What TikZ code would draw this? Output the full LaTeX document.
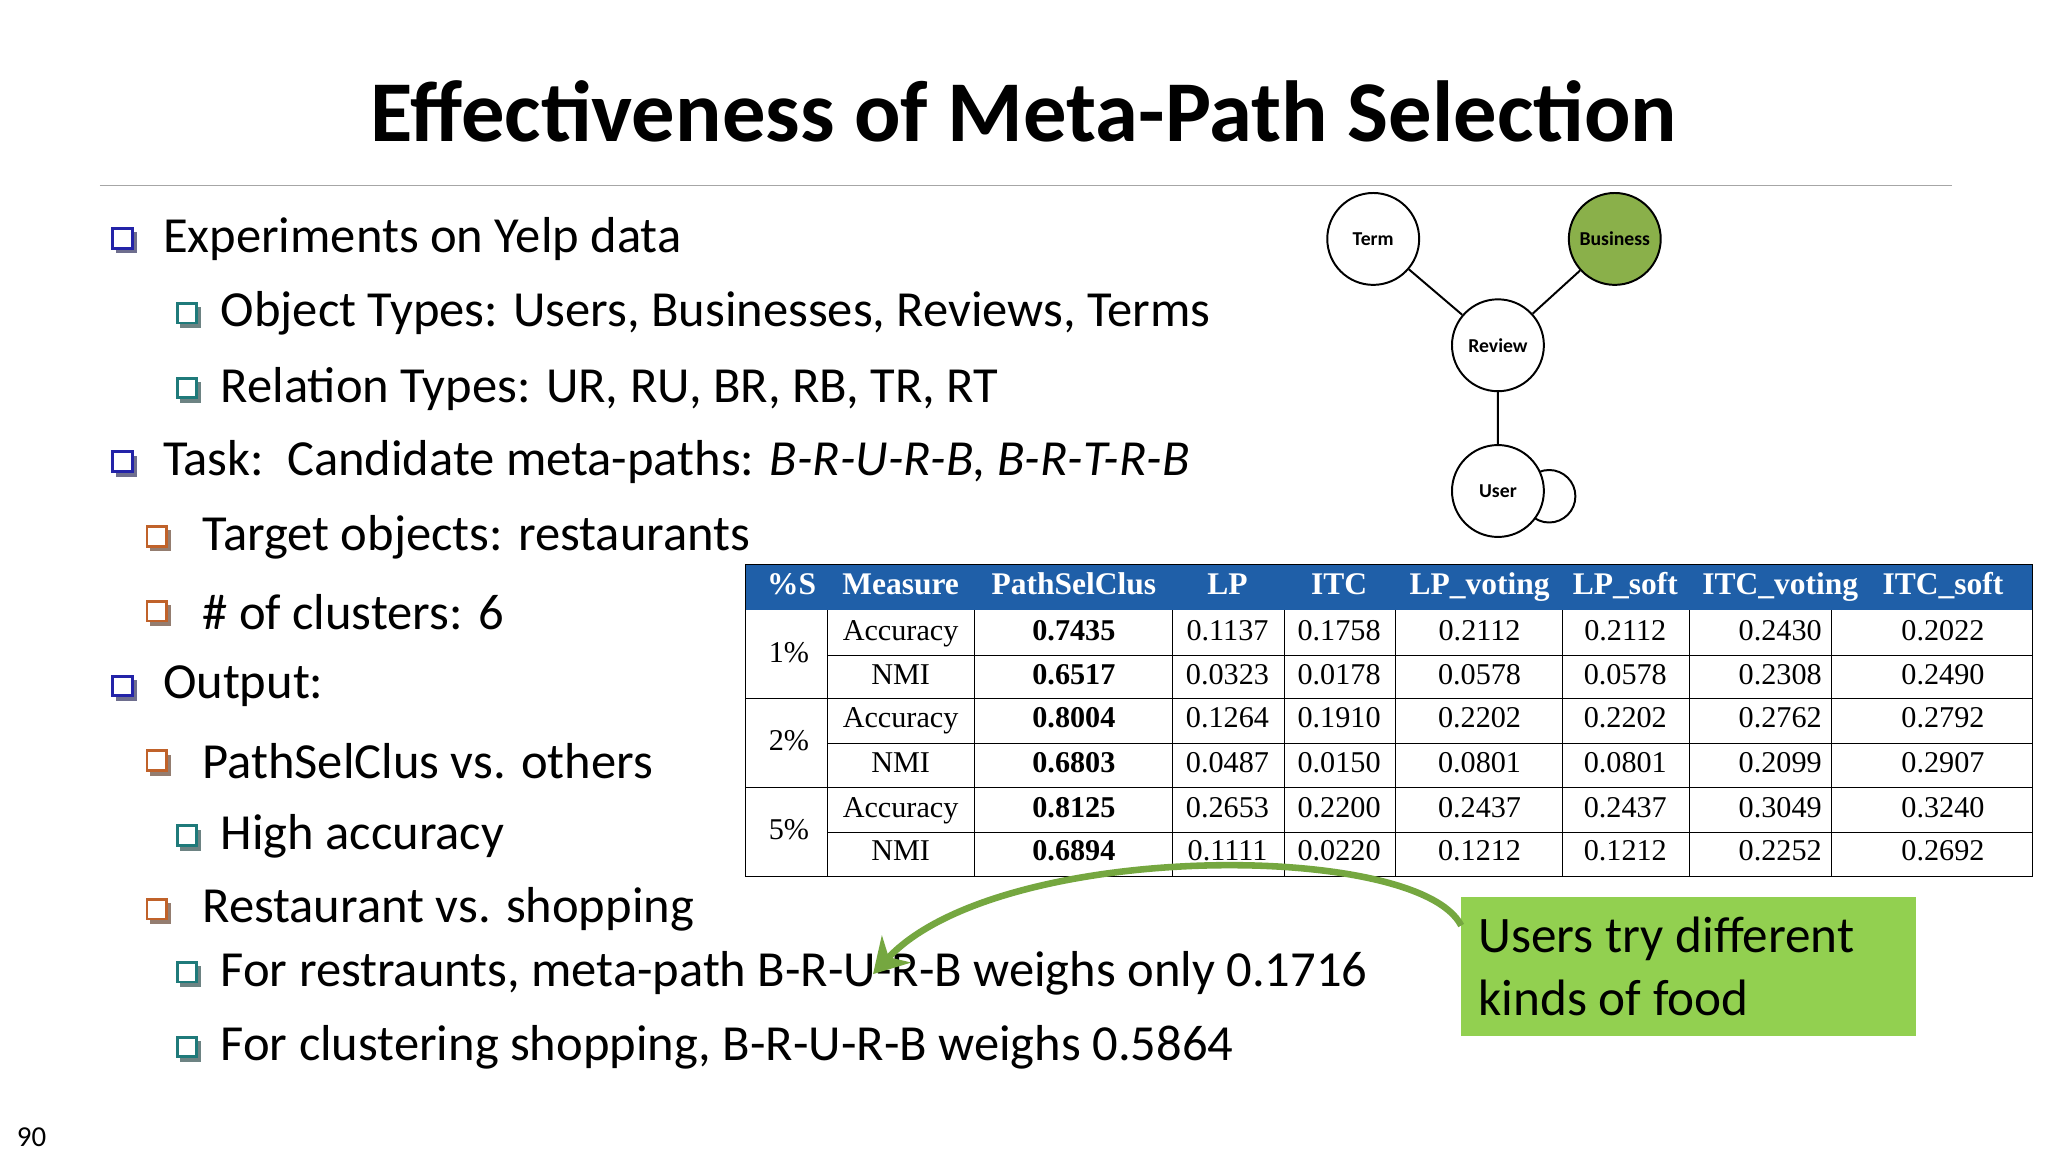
\documentclass[tikz,border=0pt]{standalone}
\usepackage{fontspec}
\setmainfont{Carlito}
\newfontfamily\tms{Liberation Serif}
\usetikzlibrary{arrows.meta}
\definecolor{bblue}{HTML}{2323A8}
\definecolor{bteal}{HTML}{1F7A7A}
\definecolor{borange}{HTML}{C0622A}
\definecolor{hblue}{HTML}{1F5FA8}
\definecolor{bgreen}{HTML}{92D050}
\definecolor{nodegreen}{HTML}{8AB04A}
\begin{document}
\begin{tikzpicture}[x=1pt,y=-1pt,
  txt/.style={anchor=west,inner sep=0pt,font=\fontsize{38.5}{44}\selectfont},
  circ/.style={circle,draw,line width=1.5pt,minimum size=70,inner sep=0pt,font=\fontsize{15}{16}\selectfont\bfseries},
  hd/.style={text=white,font=\tms\bfseries\fontsize{24}{28}\selectfont,inner sep=0pt,text height=17pt,text depth=5pt},
  cl/.style={font=\tms\fontsize{23}{28}\selectfont,inner sep=0pt,text height=16pt,text depth=5pt}]
\useasboundingbox (0,0) rectangle (1560,877.5);
\fill[white] (0,0) rectangle (1560,877.5);
\node[font=\bfseries\fontsize{66}{76}\selectfont] (title) at (780,85) {Effectiveness of Meta-Path Selection};
\draw[gray!70,line width=0.8pt] (76,141) coordinate (l1) -- (1487,141) coordinate (l2);
\newcommand{\bul}[3]{%
  \fill[#1!40!black!60] (#2-6,#3-5) rectangle (#2+10,#3+11);
  \draw[#1,line width=2.2pt,fill=white] (#2-8,#3-8) rectangle (#2+7,#3+7);}
\bul{bblue}{94}{182}\node[txt] (t1) at (124,182) {Experiments on Yelp data};
\bul{bteal}{143}{239}\node[txt] (t2) at (168,239) {Object Types: Users, Businesses, Reviews, Terms};
\bul{bteal}{143}{296}\node[txt] (t3) at (168,296) {Relation Types: UR, RU, BR, RB, TR, RT};
\bul{bblue}{94}{352}\node[txt] (t4) at (124,352) {Task:\ \ Candidate meta-paths: \textit{B-R-U-R-B, B-R-T-R-B}};
\bul{borange}{120}{409}\node[txt] (t5) at (154,409) {Target objects: restaurants};
\bul{borange}{120}{466}\node[txt] (t6) at (154,466) {\# of clusters: 6};
\bul{bblue}{94}{523}\node[txt] (t7) at (124,523) {Output:};
\bul{borange}{120}{580}\node[txt] (t8) at (154,580) {PathSelClus vs. others};
\bul{bteal}{143}{637}\node[txt] (t9) at (168,637) {High accuracy};
\bul{borange}{120}{693}\node[txt] (t10) at (154,693) {Restaurant vs. shopping};
\bul{bteal}{143}{741}\node[txt] (t11) at (168,741) {For restraunts, meta-path B-R-U-R-B weighs only 0.1716};
\bul{bteal}{143}{798}\node[txt] (t12) at (168,798) {For clustering shopping, B-R-U-R-B weighs 0.5864};
\node[font=\fontsize{22}{24}\selectfont] (pg) at (24,866) {90};
% graph
\draw[line width=1.5pt] (1180,378) circle (20);
\node[circ,fill=white] (term) at (1046,182) {Term};
\node[circ,fill=nodegreen] (bus) at (1230,182) {Business};
\node[circ,fill=white] (rev) at (1141,263) {Review};
\node[circ,fill=white] (user) at (1141,374) {User};
\draw[line width=1.5pt] (term)--(rev) (bus)--(rev) (rev)--(user);
% table
\fill[hblue] (568,430) rectangle (1548,465);
\foreach \x/\t in {603/\%S,686/Measure,818/PathSelClus,935/LP,1020/ITC,1127/LP\_voting,1238/LP\_soft,1356/ITC\_voting,1480/ITC\_soft}
  \node[hd] at (\x,447) {\t};
\draw[line width=0.8pt] (568,430) rectangle (1548,668);
\foreach \y in {532,600} \draw[line width=0.8pt] (568,\y)--(1548,\y);
\foreach \y in {499,566,634} \draw[line width=0.6pt] (630,\y)--(1548,\y);
\foreach \x in {630,742,893,978,1063,1190,1287,1395} \draw[line width=0.6pt] (\x,465)--(\x,668);
\foreach \y/\p in {499/1,566/2,634/5} \node[cl] at (601,\y) {\p\%};
\newcommand{\trow}[9]{%
  \node[cl] at (686,#1) {#2};
  \node[cl,font=\tms\bfseries\fontsize{23}{28}\selectfont] at (818,#1) {#3};
  \node[cl] at (935,#1) {#4};
  \node[cl] at (1020,#1) {#5};
  \node[cl] at (1127,#1) {#6};
  \node[cl] at (1238,#1) {#7};
  \node[cl] at (1356,#1) {#8};
  \node[cl] at (1480,#1) {#9};}
\trow{482}{Accuracy}{0.7435}{0.1137}{0.1758}{0.2112}{0.2112}{0.2430}{0.2022}
\trow{516}{NMI}{0.6517}{0.0323}{0.0178}{0.0578}{0.0578}{0.2308}{0.2490}
\trow{549}{Accuracy}{0.8004}{0.1264}{0.1910}{0.2202}{0.2202}{0.2762}{0.2792}
\trow{583}{NMI}{0.6803}{0.0487}{0.0150}{0.0801}{0.0801}{0.2099}{0.2907}
\trow{617}{Accuracy}{0.8125}{0.2653}{0.2200}{0.2437}{0.2437}{0.3049}{0.3240}
\trow{650}{NMI}{0.6894}{0.1111}{0.0220}{0.1212}{0.1212}{0.2252}{0.2692}
% callout
\node[fill=bgreen,minimum width=346,minimum height=106,anchor=north west,inner sep=0pt] (box) at (1113,683) {};
\node[anchor=west,align=left,inner sep=0pt,font=\fontsize{39}{48}\selectfont] (boxt) at (1126,736) {Users try different\\kinds of food};
\coordinate (cs) at (1113,705);
\coordinate (ce) at (665,742);
\draw[bgreen!80!black,line width=5pt,-{Stealth[length=26pt,width=30pt]}] (cs) .. controls (1080,640) and (760,640) .. (ce);
\end{tikzpicture}
\end{document}
